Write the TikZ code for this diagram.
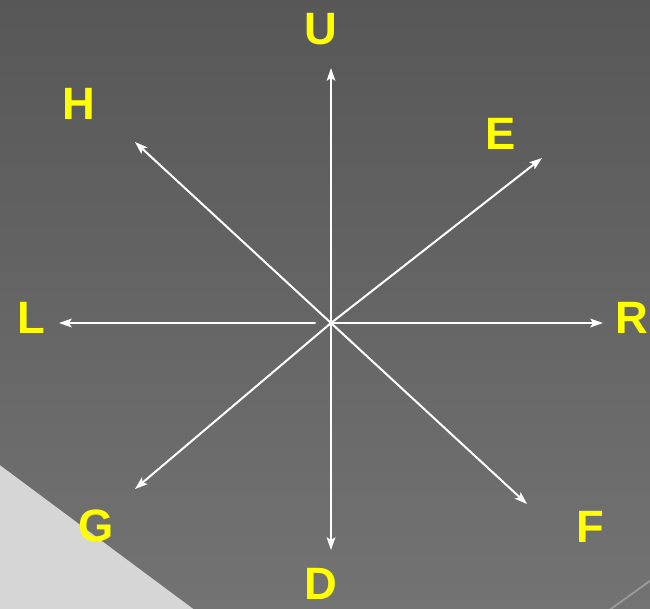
\documentclass[tikz,border=0pt]{standalone}
\usepackage{fontspec}
\setmainfont{Liberation Sans}
\usetikzlibrary{arrows.meta}
\definecolor{bgtop}{HTML}{575757}
\definecolor{bgbottom}{HTML}{737373}
\definecolor{bglight}{HTML}{D6D6D6}
\definecolor{bgline}{HTML}{9A9A9A}
\definecolor{dirjaune}{HTML}{FFFF00}

\begin{document}
\begin{tikzpicture}[x=0.75pt, y=-0.75pt, line cap=round,
    dirarrow/.style={white, line width=1.5pt,
      -{Stealth[length=9.5pt, width=6.5pt, inset=2pt]}},
    dirlabel/.style={text=dirjaune, inner sep=0pt,
      font=\bfseries\fontsize{34}{34}\selectfont}]
    \useasboundingbox (0,0) rectangle (650,608);
    % --- fondo
    \shade[top color=bgtop, bottom color=bgbottom] (-3,-3) rectangle (653,611);
    \fill[bglight] (-3,463) -- (196,611) -- (-3,611) -- cycle;
    \draw[bgline, line width=1.4pt] (608,611) -- (654,578);
    % --- centro y puntas de las flechas
    \coordinate (c)    at (331,323);
    \coordinate (cL)   at (315,323);
    \coordinate (tipU) at (331,68);
    \coordinate (tipD) at (331,550);
    \coordinate (tipL) at (59,323);
    \coordinate (tipR) at (603,323);
    \coordinate (tipH) at (135,142);
    \coordinate (tipE) at (542,158);
    \coordinate (tipG) at (135,489);
    \coordinate (tipF) at (527,504);
    % --- flechas
    \draw[dirarrow] (c) -- (tipU);
    \draw[dirarrow] (c) -- (tipD);
    \draw[dirarrow] (cL) -- (tipL);
    \draw[dirarrow] (c) -- (tipR);
    \draw[dirarrow] (c) -- (tipH);
    \draw[dirarrow] (c) -- (tipE);
    \draw[dirarrow] (c) -- (tipG);
    \draw[dirarrow] (c) -- (tipF);
    % --- rotulos
    \node[dirlabel] (U) at (321,29)  {U};
    \node[dirlabel] (D) at (321,584) {D};
    \node[dirlabel] (L) at (31,318)  {L};
    \node[dirlabel] (R) at (632,318) {R};
    \node[dirlabel] (H) at (79,104)  {H};
    \node[dirlabel] (E) at (501,134) {E};
    \node[dirlabel] (G) at (96,526)  {G};
    \node[dirlabel] (F) at (590,527) {F};
  \end{tikzpicture}
\end{document}
